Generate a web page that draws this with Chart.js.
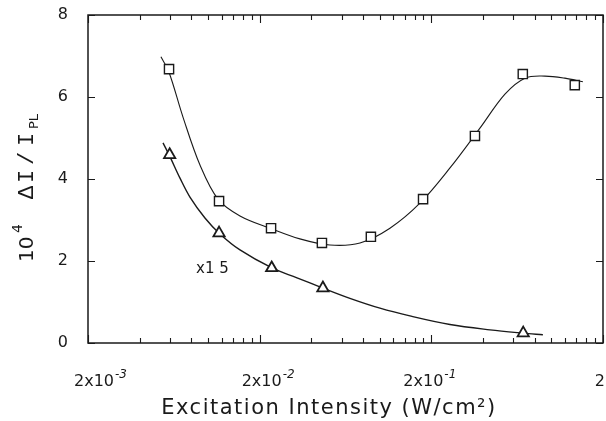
<!DOCTYPE html>
<html>
<head>
<meta charset="utf-8">
<script src="https://cdn.jsdelivr.net/npm/chart.js@4"></script>
<style>
  html, body { margin: 0; padding: 0; background: #fff; }
</style>
</head>
<body>
<canvas id="grafico" width="606" height="421"></canvas>
<script>
// ------------------------------------------------------------
// Dados (eixo x em W/cm², escala log)
// ------------------------------------------------------------

// quadrados medidos
const quadX = [0.00593, 0.0116, 0.0233, 0.0461, 0.0889, 0.179, 0.359, 0.682, 1.37];
const quadY = [6.68, 3.46, 2.80, 2.44, 2.59, 3.51, 5.05, 6.56, 6.29];

// triângulos medidos (x1.5)
const triX = [0.00598, 0.0116, 0.0235, 0.0467, 0.686];
const triY = [4.59, 2.68, 1.83, 1.34, 0.24];

// curva ajustada dos quadrados (lida ponto a ponto da figura)
const curvaQuadX = [0.00532, 0.00592, 0.00715, 0.00898, 0.01143, 0.01536, 0.02296, 0.0343,
  0.0513, 0.0768, 0.1148, 0.1716, 0.2568, 0.3838, 0.5368, 0.7018, 0.9176, 1.2, 1.527];
const curvaQuadY = [6.98, 6.61, 5.51, 4.34, 3.51, 3.10, 2.80, 2.54,
  2.39, 2.44, 2.80, 3.41, 4.27, 5.24, 6.07, 6.46, 6.51, 6.46, 6.37];

// curva ajustada dos triângulos
const curvaTriX = [0.00547, 0.00601, 0.00687, 0.00785, 0.0096, 0.01174, 0.01536, 0.02359,
  0.0330, 0.0467, 0.0671, 0.1004, 0.150, 0.2568, 0.4389, 0.683, 0.893];
const curvaTriY = [4.88, 4.54, 4.02, 3.56, 3.05, 2.66, 2.27, 1.83,
  1.59, 1.34, 1.09, 0.85, 0.66, 0.45, 0.32, 0.24, 0.20];

// marcas do eixo x
const xMaiores = [0.002, 0.02, 0.2, 2];
const xRotulos = [['2x10', '-3'], ['2x10', '-2'], ['2x10', '-1'], ['2', '']];
const xMenores = [0.004, 0.006, 0.008, 0.01, 0.012, 0.014, 0.016, 0.018,
  0.04, 0.06, 0.08, 0.1, 0.12, 0.14, 0.16, 0.18,
  0.4, 0.6, 0.8, 1.0, 1.2, 1.4, 1.6, 1.8];
const yMarcas = [0, 2, 4, 6, 8];

const FONTE = "'DejaVu Sans', sans-serif";
const PRETO = '#1a1a1a';

// junta x e y em pontos {x, y}
const pontos = (xs, ys) => xs.map((x, i) => ({ x, y: ys[i] }));

// Moldura completa + marcas para dentro + rótulos e títulos
const moldura = {
  id: 'moldura',
  afterDraw(chart) {
    const { ctx, chartArea: a, scales: { x, y } } = chart;
    ctx.save();
    ctx.strokeStyle = PRETO;
    ctx.lineWidth = 1.5;
    ctx.strokeRect(a.left, a.top, a.right - a.left, a.bottom - a.top);

    ctx.lineWidth = 1.1;
    ctx.beginPath();
    const marcaX = (v, tam) => {
      const px = Math.round(x.getPixelForValue(v)) + 0.5;
      ctx.moveTo(px, a.bottom); ctx.lineTo(px, a.bottom - tam);
      ctx.moveTo(px, a.top);    ctx.lineTo(px, a.top + tam);
    };
    xMenores.forEach(v => marcaX(v, 5));
    xMaiores.forEach(v => marcaX(v, 8));
    yMarcas.forEach(v => {
      const py = Math.round(y.getPixelForValue(v)) + 0.5;
      ctx.moveTo(a.left, py);  ctx.lineTo(a.left + 7, py);
      ctx.moveTo(a.right, py); ctx.lineTo(a.right - 7, py);
    });
    ctx.stroke();

    ctx.fillStyle = PRETO;
    ctx.textBaseline = 'alphabetic';
    ctx.textAlign = 'left';

    // rótulos do eixo x: base + expoente (deslocados como no original)
    const desloc = [12, 8, -2, 0];
    xMaiores.forEach((v, i) => {
      const [base, exp] = xRotulos[i];
      ctx.font = '16px ' + FONTE;
      const wb = ctx.measureText(base).width;
      ctx.font = 'italic 12px ' + FONTE;
      const we = ctx.measureText(exp).width;
      let x0 = x.getPixelForValue(v) - (wb + we) / 2 + desloc[i];
      if (x0 + wb + we > 605) x0 = 605 - wb - we;
      ctx.font = '16px ' + FONTE;
      ctx.fillText(base, x0, 386);
      ctx.font = 'italic 12px ' + FONTE;
      ctx.fillText(exp, x0 + wb + 1, 378);
    });

    // rótulo do fator de escala
    ctx.font = '15px ' + FONTE;
    ctx.fillText('x1 5', 196, 273);

    // título do eixo x
    ctx.font = '21px ' + FONTE;
    ctx.letterSpacing = '1.5px';
    ctx.textAlign = 'center';
    ctx.fillText('Excitation Intensity (W/cm\u00B2)', 329, 414);
    ctx.letterSpacing = '0px';

    // título do eixo y (rotacionado): 10^4 ΔI/I_PL
    ctx.textAlign = 'left';
    ctx.translate(33, 262);
    ctx.rotate(-Math.PI / 2);
    ctx.font = '20px ' + FONTE;
    ctx.fillText('10', 0, 0);
    ctx.font = '14px ' + FONTE;
    ctx.fillText('4', 29, -11);
    ctx.font = "22px 'Liberation Mono', monospace";
    ctx.fillText('\u0394', 63, 0);
    ctx.fillText('I', 79, 0);
    ctx.fillText('/', 97, 0);
    ctx.fillText('I', 116, 0);
    ctx.font = '13px ' + FONTE;
    ctx.fillText('PL', 133, 5);
    ctx.restore();
  }
};

new Chart(document.getElementById('grafico'), {
  type: 'scatter',
  data: {
    datasets: [
      {
        data: pontos(quadX, quadY),
        pointStyle: 'rect', pointRadius: 6.5, pointBorderWidth: 1.4,
        pointBackgroundColor: '#fff', pointBorderColor: PRETO
      },
      {
        data: pontos(triX, triY),
        pointStyle: 'triangle', pointRadius: 6.5, pointBorderWidth: 1.8,
        pointBackgroundColor: '#fff', pointBorderColor: PRETO
      },
      {
        data: pontos(curvaQuadX, curvaQuadY),
        showLine: true, pointRadius: 0, borderColor: PRETO, borderWidth: 1.1,
        tension: 0.35
      },
      {
        data: pontos(curvaTriX, curvaTriY),
        showLine: true, pointRadius: 0, borderColor: PRETO, borderWidth: 1.4,
        tension: 0.35
      }
    ]
  },
  options: {
    responsive: false,
    animation: false,
    devicePixelRatio: 1,
    // sem autoPadding: o raio dos marcadores não deve encolher a área do gráfico
    layout: { autoPadding: false, padding: { top: 15, right: 3, left: 0, bottom: 0 } },
    plugins: { legend: { display: false }, tooltip: { enabled: false } },
    scales: {
      x: {
        type: 'logarithmic', min: 0.002, max: 2,
        grid: { display: false, drawTicks: false },
        border: { display: false },
        afterBuildTicks: s => { s.ticks = xMaiores.map(v => ({ value: v })); },
        ticks: { display: false },
        afterFit: s => { s.height = 78; }
      },
      y: {
        min: 0, max: 8,
        grid: { display: false, drawTicks: false },
        border: { display: false },
        ticks: {
          stepSize: 2, padding: 20, color: PRETO,
          font: { family: FONTE, size: 16 }
        },
        afterFit: s => { s.width = 88; s.paddingTop = 0; s.paddingBottom = 0; }
      }
    }
  },
  plugins: [moldura]
});
</script>
</body>
</html>
